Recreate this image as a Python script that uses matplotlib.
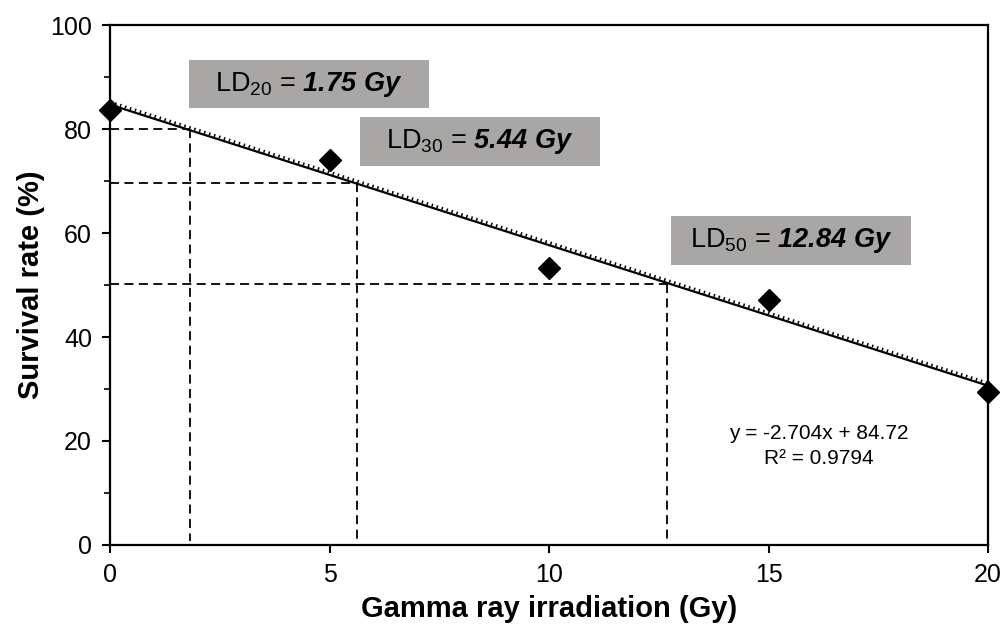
import numpy as np
import matplotlib.pyplot as plt
from matplotlib.patches import Rectangle

plt.rcParams['font.family'] = ['Liberation Sans', 'DejaVu Sans']
plt.rcParams['mathtext.fontset'] = 'custom'
plt.rcParams['mathtext.rm'] = 'Liberation Sans'
plt.rcParams['mathtext.it'] = 'Liberation Sans:italic'
plt.rcParams['mathtext.bf'] = 'Liberation Sans:bold'
plt.rcParams['mathtext.bfit'] = 'Liberation Sans:italic:bold'

# measured survival
dose = [0, 5, 10, 15, 20]
survival = [83.7, 74.0, 53.3, 47.2, 29.5]

# linear fit reported on the chart
slope, intercept = -2.704, 84.72
r2 = 0.9794

# lethal dose guide lines
ld_names = ['20', '30', '50']
ld_values = ['1.75', '5.44', '12.84']
ld_x = [1.82, 5.62, 12.69]
ld_y = [80.0, 69.6, 50.2]

fig = plt.figure(figsize=(10.04, 6.3), dpi=100)
ax = fig.add_axes([0.1096, 0.135, 0.8745, 0.825])

# trend line: solid with a dotted edge like Excel
xs = np.array([0, 20])
ax.plot(xs, slope * xs + intercept, color='black', lw=1.6, zorder=3)
ax.plot(xs, slope * xs + intercept + 0.5, color='black', lw=2.2,
        linestyle=(0, (0.5, 1.2)), zorder=3)

ax.plot(dose, survival, linestyle='none', marker='D', ms=11,
        color='black', clip_on=False, zorder=5)

for x, y in zip(ld_x, ld_y):
    ax.plot([0, x], [y, y], color='black', lw=1.3, linestyle=(0, (5, 3)), zorder=2)
    ax.plot([x, x], [y, 0.8], color='black', lw=1.3, linestyle=(0, (5, 3)), zorder=2)

# labels in grey boxes (centre x, centre y in data units)
box_pos = [(4.53, 88.65), (8.43, 77.6), (15.51, 58.56)]
box_w, box_h = 5.47, 9.3
for (bx, by), n, v in zip(box_pos, ld_names, ld_values):
    ax.add_patch(Rectangle((bx - box_w / 2, by - box_h / 2), box_w, box_h,
                           facecolor='#a9a7a5', edgecolor='none', zorder=6))
    ax.text(bx, by, r'LD$_{%s}$ = $\mathbfit{%s\ Gy}$' % (n, v),
            ha='center', va='center', fontsize=19.5, zorder=7)

ax.text(16.15, 21.5, 'y = -2.704x + 84.72', ha='center', va='center', fontsize=15)
ax.text(16.15, 16.7, 'R² = %.4f' % r2, ha='center', va='center', fontsize=15)

ax.set_xlim(0, 20)
ax.set_ylim(0, 100)
ax.set_xticks([0, 5, 10, 15, 20])
ax.set_yticks([0, 20, 40, 60, 80, 100])
ax.set_yticks([10, 30, 50, 70, 90], minor=True)
ax.tick_params(axis='both', labelsize=18, width=1.5, length=6, direction='out', pad=7)
ax.tick_params(axis='y', which='minor', length=4, width=1.2)
for s in ax.spines.values():
    s.set_linewidth(1.6)

ax.set_xlabel('Gamma ray irradiation (Gy)', fontsize=21, fontweight='bold', labelpad=6)
ax.set_ylabel('Survival rate (%)', fontsize=21, fontweight='bold', labelpad=4)

fig.savefig('out.png', dpi=100)
